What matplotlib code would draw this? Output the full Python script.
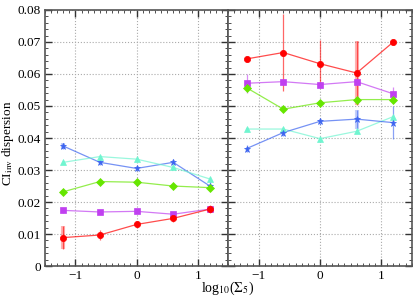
import numpy as np
import matplotlib
matplotlib.use("Agg")
import matplotlib.pyplot as plt
from matplotlib.ticker import MultipleLocator, FuncFormatter

plt.rcParams['font.family'] = ['Liberation Serif', 'DejaVu Serif']
plt.rcParams['mathtext.fontset'] = 'stix'

x = [-1.2, -0.6, 0.0, 0.6, 1.2]

# left panel
blue_l = [0.0375, 0.0324, 0.0305, 0.0324, 0.0250]
cyan_l = [0.0324, 0.0342, 0.0334, 0.0308, 0.0272]
green_l = [0.0232, 0.0264, 0.0262, 0.0250, 0.0245]
violet_l = [0.0174, 0.0169, 0.0171, 0.0162, 0.0178]
red_l = [0.0089, 0.0097, 0.0130, 0.0149, 0.0178]
blue_l_err = [0.0010, 0.0008, 0.0008, 0.0012, 0.0015]
cyan_l_err = [0.0005, 0.0005, 0.0005, 0.0005, 0.0006]
green_l_err = [0.0006, 0.0005, 0.0005, 0.0005, 0.0006]
violet_l_err = [0.0008, 0.0004, 0.0004, 0.0005, 0.0005]
red_l_err = [0.0035, 0.0015, 0.0010, 0.0012, 0.0012]

# right panel
red_r = [0.0647, 0.0667, 0.0632, 0.0603, 0.0700]
violet_r = [0.0571, 0.0576, 0.0567, 0.0576, 0.0538]
green_r = [0.0557, 0.0490, 0.0510, 0.0520, 0.0520]
cyan_r = [0.0428, 0.0428, 0.0398, 0.0421, 0.0467]
blue_r = [0.0367, 0.0417, 0.0452, 0.0459, 0.0448]
red_r_err = [0.0010, 0.0120, 0.0075, 0.0100, 0.0010]
violet_r_err = [0.0030, 0.0008, 0.0008, 0.0008, 0.0020]
green_r_err = [0.0008, 0.0006, 0.0006, 0.0006, 0.0006]
cyan_r_err = [0.0005, 0.0005, 0.0005, 0.0005, 0.0005]
blue_r_err = [0.0012, 0.0010, 0.0010, 0.0030, 0.0052]

# points drawn with a wide, faint error bar (panel, series, index)
wide_bars = [('l', 'red', 0), ('l', 'blue', 0), ('r', 'red', 3), ('r', 'blue', 3)]

colors = {'red': '#ff0000', 'violet': '#c040f0', 'green': '#66e600',
          'cyan': '#70f5d0', 'blue': '#3c64f0'}
markers = {'red': 'o', 'violet': 's', 'green': 'D', 'cyan': '^', 'blue': '*'}
sizes = {'red': 4.5, 'violet': 4.5, 'green': 4, 'cyan': 4.5, 'blue': 5}

fig = plt.figure(figsize=(4.15, 3.01), dpi=100)
ax1 = fig.add_axes([0.108, 0.116, 0.442, 0.851])
ax2 = fig.add_axes([0.550, 0.116, 0.442, 0.851])

left = [('blue', blue_l, blue_l_err), ('cyan', cyan_l, cyan_l_err),
        ('green', green_l, green_l_err), ('violet', violet_l, violet_l_err),
        ('red', red_l, red_l_err)]
right = [('red', red_r, red_r_err), ('violet', violet_r, violet_r_err),
         ('green', green_r, green_r_err), ('cyan', cyan_r, cyan_r_err),
         ('blue', blue_r, blue_r_err)]

for tag, ax, series in [('l', ax1, left), ('r', ax2, right)]:
    for name, y, e in series:
        c = colors[name]
        ax.plot(x, y, '-', color=c, lw=0.9, alpha=0.7, zorder=2)
        ax.errorbar(x, y, yerr=e, fmt='none', ecolor=c, elinewidth=0.9,
                    alpha=0.6, capsize=0, zorder=2)
        for t, n, i in wide_bars:
            if t == tag and n == name:
                ax.errorbar([x[i]], [y[i]], yerr=[e[i]], fmt='none', ecolor=c,
                            elinewidth=3, alpha=0.3, capsize=0, zorder=2)
        ax.plot(x, y, linestyle='none', marker=markers[name], color=c,
                markersize=sizes[name], markeredgewidth=0.5, zorder=3)

    ax.set_xlim(-1.5, 1.5)
    ax.set_ylim(0, 0.08)
    ax.xaxis.set_major_locator(MultipleLocator(1))
    ax.xaxis.set_minor_locator(MultipleLocator(0.1))
    ax.yaxis.set_major_locator(MultipleLocator(0.01))
    ax.yaxis.set_minor_locator(MultipleLocator(0.002))
    ax.grid(True, which='major', linestyle=':', color='#aaaaaa', lw=0.8)
    ax.tick_params(which='both', direction='in', top=True, right=True,
                   labelsize=9.5, colors='#333333', labelcolor='black', pad=3)
    ax.tick_params(which='major', length=5, width=1)
    ax.tick_params(which='minor', length=2.5, width=0.6)
    for s in ax.spines.values():
        s.set_color('#555555')
        s.set_linewidth(1.2)
    ax.xaxis.set_major_formatter(FuncFormatter(lambda v, p: '\u2212%d' % abs(v) if v < 0 else '%d' % v))

ax1.yaxis.set_major_formatter(FuncFormatter(lambda v, p: '0' if abs(v) < 1e-9 else '%.2f' % v))
ax2.set_yticklabels([])
ax1.set_ylabel(r'CI$_{\rm inv}$ dispersion', fontsize=9.5)
ax1.yaxis.set_label_coords(-0.155, 0.48)
fig.text(0.548, 0.012, r'log$_{10}$($\Sigma_5$)', fontsize=10, ha='center', va='bottom')

fig.savefig('out.png', dpi=100)
